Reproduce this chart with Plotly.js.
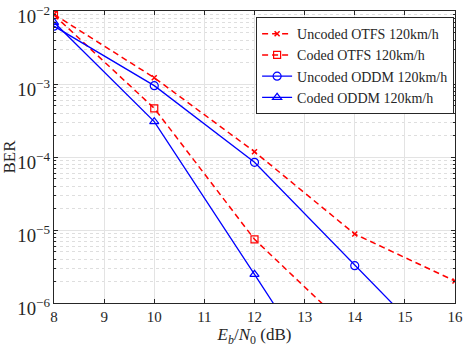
<!DOCTYPE html>
<html>
<head>
<meta charset="utf-8">
<script src="https://cdn.plot.ly/plotly-3.0.1.min.js"></script>
<style>
  html, body { margin: 0; padding: 0; background: #fff; }
  #myDiv { width: 463px; height: 348px; }
</style>
</head>
<body>
<div id="myDiv"></div>
<script>
// Eb/N0 points (dB)
var snr = [8, 10, 12, 14, 16];
var snrCoded = [8, 10, 12, 14];

// BER
var uncodedOtfs = [9.0e-3, 1.22e-3, 1.18e-4, 8.8e-6, 2.0e-6];
var codedOtfs = [8.8e-3, 4.65e-4, 7.45e-6, 3.7e-7];
var uncodedOddm = [6.2e-3, 9.5e-4, 8.45e-5, 3.25e-6, 1.3e-7];
var codedOddm = [7.0e-3, 3.05e-4, 2.47e-6, 1.9e-8];

var names = ['Uncoded OTFS 120km/h', 'Coded OTFS 120km/h',
             'Uncoded ODDM 120km/h', 'Coded ODDM 120km/h'];

var red = '#ff0000';
var blue = '#0000ff';

var trace1 = {
  x: snr, y: uncodedOtfs,
  mode: 'lines+markers', type: 'scatter', name: names[0],
  line: {color: red, width: 1.5, dash: '6px,4px'},
  marker: {symbol: 'x-thin-open', size: 5, color: red, line: {color: red, width: 1.5}}
};

var trace2 = {
  x: snrCoded, y: codedOtfs,
  mode: 'lines+markers', type: 'scatter', name: names[1],
  line: {color: red, width: 1.5, dash: '6px,4px'},
  marker: {symbol: 'square-open', size: 7, color: red, line: {color: red, width: 1.2}}
};

var trace3 = {
  x: snr, y: uncodedOddm,
  mode: 'lines+markers', type: 'scatter', name: names[2],
  line: {color: blue, width: 1.3},
  marker: {symbol: 'circle-open', size: 8, color: blue, line: {color: blue, width: 1.2}}
};

var trace4 = {
  x: snrCoded, y: codedOddm,
  mode: 'lines+markers', type: 'scatter', name: names[3],
  line: {color: blue, width: 1.3},
  marker: {symbol: 'triangle-up-open', size: 8, color: blue, line: {color: blue, width: 1.2}}
};

var data = [trace1, trace2, trace3, trace4];

var serif = '"Liberation Serif", "DejaVu Serif", serif';
var axisFont = {family: serif, size: 15, color: '#262626'};

var layout = {
  width: 463,
  height: 348,
  margin: {l: 54, r: 8, t: 11, b: 45},
  font: axisFont,
  showlegend: true,
  xaxis: {
    range: [8, 16],
    dtick: 1,
    ticks: 'inside',
    ticklen: 4,
    tickcolor: '#262626',
    showline: true,
    linecolor: '#262626',
    linewidth: 1,
    mirror: 'ticks',
    showgrid: true,
    gridcolor: '#e3e3e3',
    zeroline: false,
    tickfont: axisFont,
    ticklabeloverflow: 'allow',
    title: {text: '<i>E<sub>b</sub></i>/<i>N</i><sub>0</sub> (dB)', font: {family: serif, size: 17, color: '#262626'}, standoff: 2}
  },
  yaxis: {
    type: 'log',
    range: [-6, -2],
    dtick: 1,
    exponentformat: 'power',
    ticks: 'inside',
    ticklen: 4,
    tickcolor: '#262626',
    showline: true,
    linecolor: '#262626',
    linewidth: 1,
    mirror: 'ticks',
    showgrid: true,
    gridcolor: '#e3e3e3',
    zeroline: false,
    tickfont: axisFont,
    ticklabeloverflow: 'allow',
    ticklabelshift: 5,
    minor: {
      ticks: 'inside',
      ticklen: 2,
      tickcolor: '#262626',
      showgrid: true,
      gridcolor: '#dedede',
      gridwidth: 1,
      griddash: 'dot'
    },
    title: {text: 'BER', font: {family: serif, size: 17, color: '#262626'}, standoff: 4}
  },
  legend: {
    x: 0.504, y: 0.979,
    xanchor: 'left', yanchor: 'top',
    bgcolor: '#ffffff',
    bordercolor: '#262626',
    borderwidth: 1,
    font: {family: serif, size: 14, color: '#262626'},
    tracegroupgap: 0,
    itemwidth: 30
  },
  plot_bgcolor: '#ffffff',
  paper_bgcolor: '#ffffff'
};

Plotly.newPlot('myDiv', data, layout, {displayModeBar: false, staticPlot: true});
</script>
</body>
</html>
